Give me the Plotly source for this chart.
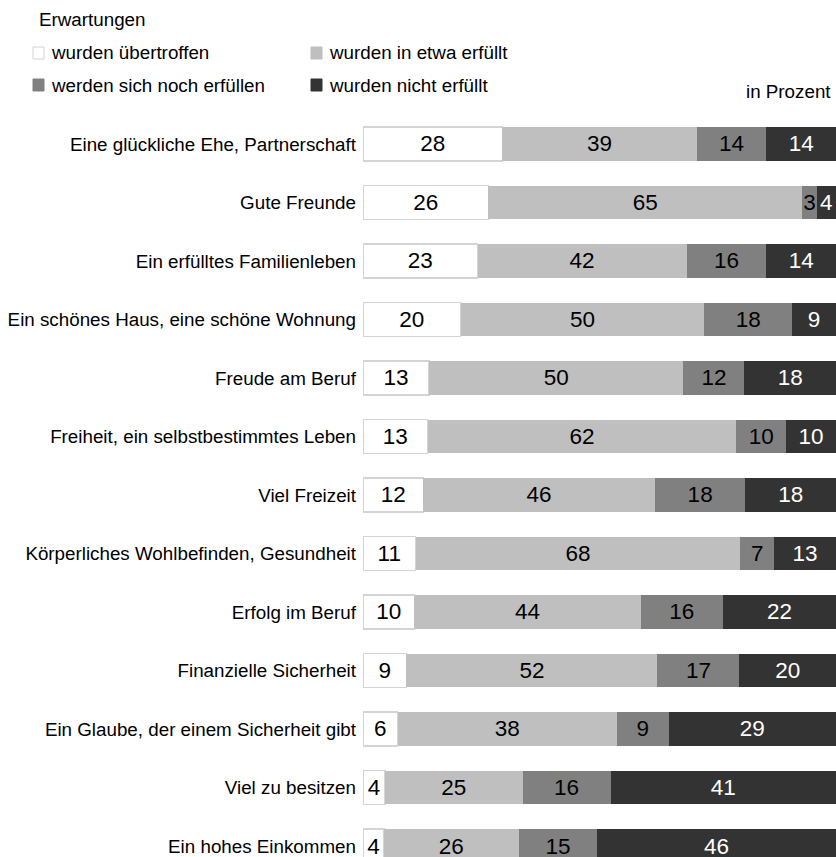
import plotly.graph_objects as go

# Survey items (top to bottom) and answer shares in percent
categories = [
    "Eine glückliche Ehe, Partnerschaft",
    "Gute Freunde",
    "Ein erfülltes Familienleben",
    "Ein schönes Haus, eine schöne Wohnung",
    "Freude am Beruf",
    "Freiheit, ein selbstbestimmtes Leben",
    "Viel Freizeit",
    "Körperliches Wohlbefinden, Gesundheit",
    "Erfolg im Beruf",
    "Finanzielle Sicherheit",
    "Ein Glaube, der einem Sicherheit gibt",
    "Viel zu besitzen",
    "Ein hohes Einkommen",
]
uebertroffen = [28, 26, 23, 20, 13, 13, 12, 11, 10, 9, 6, 4, 4]
in_etwa = [39, 65, 42, 50, 50, 62, 46, 68, 44, 52, 38, 25, 26]
noch_erfuellen = [14, 3, 16, 18, 12, 10, 18, 7, 16, 17, 9, 16, 15]
nicht_erfuellt = [14, 4, 14, 9, 18, 10, 18, 13, 22, 20, 29, 41, 46]

series_names = [
    "wurden übertroffen",
    "wurden in etwa erfüllt",
    "werden sich noch erfüllen",
    "wurden nicht erfüllt",
]
series_values = [uebertroffen, in_etwa, noch_erfuellen, nicht_erfuellt]
series_colors = ["#ffffff", "#bfbfbf", "#808080", "#333333"]
text_colors = ["#000000", "#000000", "#000000", "#ffffff"]
line_colors = ["#d4d4d4", "#bfbfbf", "#808080", "#333333"]
line_widths = [1.5, 0, 0, 0]

FONT = "Liberation Sans, Arial, sans-serif"
LABEL_SIZE = 18.8
VALUE_SIZE = 22.5
W, H = 836, 857
L, R, T, B = 363, 0, 110, 0
PW, PH = W - L - R, H - T - B


def px_x(x):
    return (x - L) / PW


def px_y(y):
    return (H - B - y) / PH


fig = go.Figure()
for name, vals, col, tcol, lcol, lw in zip(series_names, series_values, series_colors,
                                           text_colors, line_colors, line_widths):
    fig.add_trace(go.Bar(
        y=categories, x=vals, name=name, orientation="h",
        marker=dict(color=col, line=dict(color=lcol, width=lw)),
        text=vals, textposition="inside", insidetextanchor="middle",
        textangle=0, textfont=dict(family=FONT, size=VALUE_SIZE, color=tcol),
        width=0.58, showlegend=False, hoverinfo="skip",
    ))

# legend drawn as squares and labels
shapes, annotations = [], []
legend_pos = [(33, 53), (311, 53), (33, 85), (311, 85)]
for (lx, ly), name, col, lcol in zip(legend_pos, series_names, series_colors, line_colors):
    shapes.append(dict(
        type="rect", xref="paper", yref="paper",
        x0=px_x(lx), x1=px_x(lx + 11), y0=px_y(ly + 6), y1=px_y(ly - 6),
        fillcolor=col, line=dict(color=lcol if col == "#ffffff" else col, width=1),
    ))
    annotations.append(dict(
        text=name, xref="paper", yref="paper", x=px_x(lx + 16), y=px_y(ly),
        xanchor="left", yanchor="middle", showarrow=False,
        font=dict(family=FONT, size=LABEL_SIZE, color="#000000"),
    ))

annotations.append(dict(
    text="Erwartungen", xref="paper", yref="paper", x=px_x(37), y=px_y(19),
    xanchor="left", yanchor="middle", showarrow=False,
    font=dict(family=FONT, size=LABEL_SIZE, color="#000000"),
))
annotations.append(dict(
    text="in Prozent", xref="paper", yref="paper", x=px_x(833), y=px_y(92),
    xanchor="right", yanchor="middle", showarrow=False,
    font=dict(family=FONT, size=LABEL_SIZE, color="#000000"),
))

fig.update_layout(
    width=W, height=H,
    margin=dict(l=L, r=R, t=T, b=B, pad=0),
    barmode="stack", barnorm="percent",
    paper_bgcolor="white", plot_bgcolor="white",
    uniformtext=dict(minsize=VALUE_SIZE, mode="show"),
    shapes=shapes, annotations=annotations,
    xaxis=dict(range=[0, 100], visible=False, fixedrange=True),
    yaxis=dict(
        type="category", categoryorder="array", categoryarray=categories,
        range=[12.188, -0.581], showgrid=False, zeroline=False, showline=False,
        ticks="", ticklabelstandoff=6,
        tickfont=dict(family=FONT, size=LABEL_SIZE, color="#000000"),
    ),
    font=dict(family=FONT),
    showlegend=False,
)

fig.write_html("out.html", config={"displayModeBar": False})
